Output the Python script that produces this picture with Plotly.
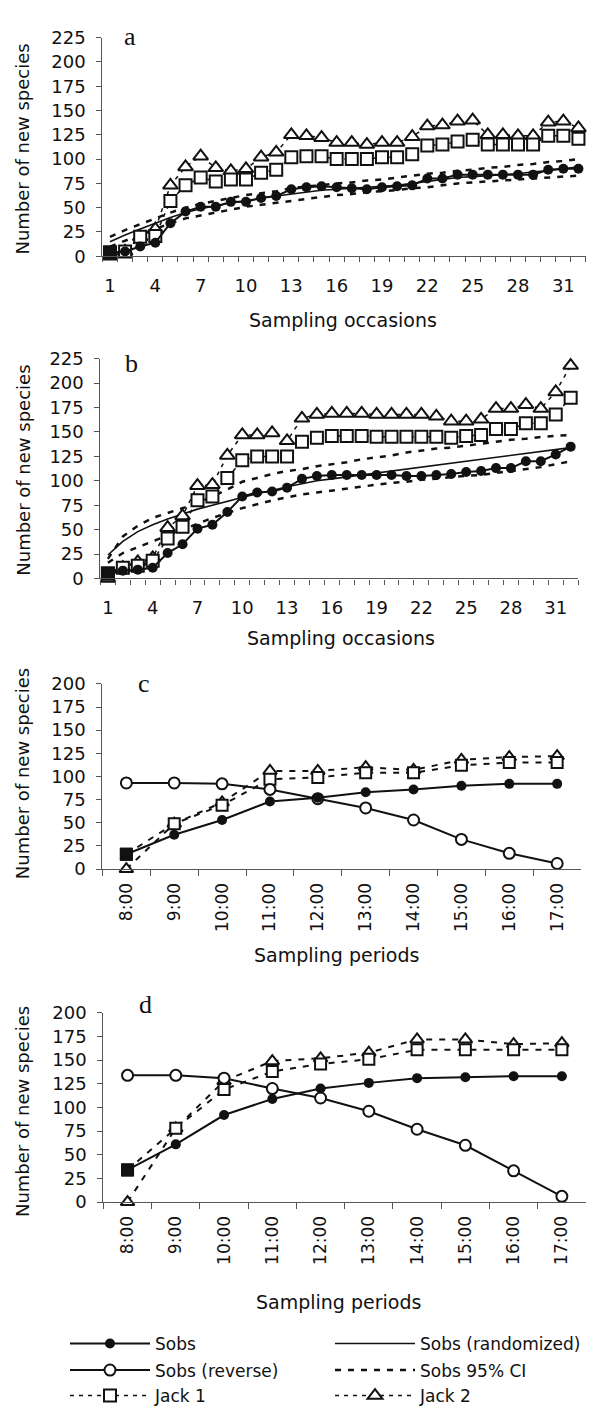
import plotly.graph_objects as go

W, H = 595, 1414
FONT = "DejaVu Sans"
SERIF = "Liberation Serif"
INK = "#111111"
AXIS = "#555555"


def px(x):
    return x / W


def py(y):
    return 1 - y / H


# ---- shared categories ----
occasions = list(range(1, 33))
occasion_labels = [1, 4, 7, 10, 13, 16, 19, 22, 25, 28, 31]
hours = ["8:00", "9:00", "10:00", "11:00", "12:00",
         "13:00", "14:00", "15:00", "16:00", "17:00"]

# ---- panel a: accumulation over sampling occasions ----
a_sobs = [4, 5, 10, 14, 34, 46, 51, 51, 56, 56, 60, 62, 69, 71, 72, 71,
          70, 69, 71, 72, 73, 80, 80, 84, 84, 84, 84, 84, 84, 89, 90, 90]
a_rand = [15, 22, 28, 34, 40, 45, 49, 52, 55, 57, 60, 62, 64, 66, 68, 69,
          70, 71, 72, 73, 75, 77, 79, 81, 82, 83, 84, 85, 87, 88, 90, 92]
a_ci_hi = [20, 27, 33, 39, 45, 50, 54, 57, 60, 63, 65, 67, 70, 72, 73, 75,
           76, 78, 79, 81, 83, 85, 86, 88, 89, 91, 92, 94, 95, 97, 98, 100]
a_ci_lo = [10, 16, 22, 28, 34, 39, 42, 45, 48, 51, 53, 55, 57, 59, 61, 63,
           64, 66, 67, 68, 70, 71, 73, 75, 76, 77, 78, 79, 80, 81, 82, 83]
a_jack1 = [4, 5, 20, 21, 57, 73, 81, 77, 79, 79, 86, 89, 102, 103, 103, 100,
           100, 100, 102, 102, 105, 114, 115, 118, 120, 115, 115, 115, 115,
           124, 124, 121]
a_jack2 = [0, 5, 20, 28, 73, 92, 103, 91, 88, 90, 102, 107, 125, 124, 122,
           117, 117, 115, 117, 117, 123, 134, 135, 139, 140, 125, 125, 124,
           124, 138, 139, 132]

# ---- panel b ----
b_sobs = [5, 8, 9, 11, 26, 35, 51, 55, 68, 84, 88, 89, 93, 102, 105, 106,
          106, 106, 106, 106, 105, 105, 106, 107, 109, 110, 113, 113, 120,
          120, 127, 135]
b_rand = [24, 38, 48, 55, 61, 66, 71, 75, 79, 83, 87, 90, 94, 97, 100, 102,
          104, 106, 108, 110, 112, 114, 116, 118, 120, 122, 124, 126, 128,
          130, 132, 134]
b_ci_hi = [20, 43, 54, 62, 67, 72, 77, 84, 91, 99, 103, 107, 110, 112, 115,
           117, 119, 122, 124, 126, 129, 131, 133, 134, 136, 138, 140, 142,
           143, 145, 146, 147]
b_ci_lo = [16, 26, 32, 38, 44, 50, 56, 62, 67, 72, 76, 80, 83, 86, 88, 90,
           92, 94, 96, 98, 99, 101, 102, 104, 105, 106, 108, 110, 112, 114,
           117, 120]
b_jack1 = [5, 11, 13, 18, 41, 53, 80, 84, 103, 121, 125, 125, 125, 140, 144,
           146, 146, 146, 145, 145, 145, 145, 145, 144, 146, 147, 153, 153,
           159, 159, 168, 185]
b_jack2 = [0, 11, 17, 21, 52, 64, 95, 96, 126, 147, 147, 149, 141, 164, 168,
           169, 169, 169, 168, 168, 168, 168, 166, 161, 161, 163, 174, 174,
           178, 174, 191, 218]

# ---- panel c: hourly sampling periods ----
c_sobs = [16, 37, 53, 73, 77, 83, 86, 90, 92, 92]
c_rev = [93, 93, 92, 86, 76, 66, 53, 32, 17, 6]
c_jack1 = [16, 49, 69, 97, 99, 104, 104, 112, 115, 115]
c_jack2 = [0, 49, 72, 106, 106, 110, 107, 118, 121, 122]

# ---- panel d ----
d_sobs = [34, 61, 92, 109, 120, 126, 131, 132, 133, 133]
d_rev = [134, 134, 131, 120, 110, 96, 77, 60, 33, 6]
d_jack1 = [34, 78, 119, 138, 146, 151, 161, 161, 161, 161]
d_jack2 = [0, 78, 128, 149, 152, 158, 172, 172, 167, 168]

fig = go.Figure()


def add_occasion_panel(n, sobs, rand, ci_hi, ci_lo, jack1, jack2, legend):
    xa, ya = ("x", "y") if n == 1 else (f"x{n}", f"y{n}")
    common = dict(xaxis=xa, yaxis=ya, cliponaxis=False)
    ci_line = dict(color=INK, width=2.5, dash="6px,7px")
    fig.add_trace(go.Scatter(x=occasions, y=ci_hi, mode="lines", line=ci_line,
                             name="Sobs 95% CI", legend="legend2",
                             legendrank=4, showlegend=legend, **common))
    fig.add_trace(go.Scatter(x=occasions, y=ci_lo, mode="lines", line=ci_line,
                             showlegend=False, **common))
    fig.add_trace(go.Scatter(x=occasions, y=rand, mode="lines",
                             line=dict(color=INK, width=1.6),
                             name="Sobs (randomized)", legend="legend",
                             legendrank=2, showlegend=legend, **common))
    fig.add_trace(go.Scatter(x=occasions, y=jack2, mode="lines+markers",
                             line=dict(color=INK, width=1.5, dash="4px,5px"),
                             marker=dict(symbol="triangle-up", size=13,
                                         color="white",
                                         line=dict(color=INK, width=2)),
                             name="Jack 2", legend="legend3", legendrank=6,
                             showlegend=legend, **common))
    fig.add_trace(go.Scatter(x=occasions, y=jack1, mode="lines+markers",
                             line=dict(color=INK, width=1.5, dash="4px,5px"),
                             marker=dict(symbol="square", size=12,
                                         color="white",
                                         line=dict(color=INK, width=2)),
                             name="Jack 1", legend="legend3", legendrank=5,
                             showlegend=legend, **common))
    fig.add_trace(go.Scatter(x=occasions[:1], y=jack1[:1], mode="markers",
                             marker=dict(symbol="square", size=12, color=INK,
                                         line=dict(color=INK, width=2)),
                             showlegend=False, **common))
    fig.add_trace(go.Scatter(x=occasions, y=sobs, mode="lines+markers",
                             line=dict(color=INK, width=2),
                             marker=dict(symbol="circle", size=10, color=INK),
                             name="Sobs", legend="legend", legendrank=1,
                             showlegend=legend, **common))


def add_period_panel(n, sobs, rev, jack1, jack2, legend):
    xa, ya = f"x{n}", f"y{n}"
    common = dict(xaxis=xa, yaxis=ya, cliponaxis=False)
    jline = dict(color=INK, width=2, dash="6px,7px")
    fig.add_trace(go.Scatter(x=hours, y=jack2, mode="lines+markers",
                             line=jline,
                             marker=dict(symbol="triangle-up", size=12,
                                         color="white",
                                         line=dict(color=INK, width=2)),
                             showlegend=False, **common))
    fig.add_trace(go.Scatter(x=hours, y=jack1, mode="lines+markers",
                             line=jline,
                             marker=dict(symbol="square", size=11,
                                         color="white",
                                         line=dict(color=INK, width=2)),
                             showlegend=False, **common))
    fig.add_trace(go.Scatter(x=hours, y=rev, mode="lines+markers",
                             line=dict(color=INK, width=2),
                             marker=dict(symbol="circle", size=11,
                                         color="white",
                                         line=dict(color=INK, width=2)),
                             name="Sobs (reverse)", legend="legend2",
                             legendrank=3, showlegend=legend, **common))
    fig.add_trace(go.Scatter(x=hours, y=sobs, mode="lines+markers",
                             line=dict(color=INK, width=2),
                             marker=dict(symbol="circle", size=10, color=INK),
                             showlegend=False, **common))
    fig.add_trace(go.Scatter(x=hours[:1], y=jack1[:1], mode="markers",
                             marker=dict(symbol="square", size=12, color=INK,
                                         line=dict(color=INK, width=1)),
                             showlegend=False, **common))


add_occasion_panel(1, a_sobs, a_rand, a_ci_hi, a_ci_lo, a_jack1, a_jack2, True)
add_occasion_panel(2, b_sobs, b_rand, b_ci_hi, b_ci_lo, b_jack1, b_jack2, False)
add_period_panel(3, c_sobs, c_rev, c_jack1, c_jack2, True)
add_period_panel(4, d_sobs, d_rev, d_jack1, d_jack2, False)

tickfont = dict(family=FONT, size=18, color=INK)
axis_base = dict(showline=True, linecolor=AXIS, linewidth=1.2, showgrid=False,
                 zeroline=False, tickfont=tickfont, tickcolor=AXIS)


def occ_xaxis(x0, x1, yname):
    return dict(axis_base, domain=[px(x0), px(x1)], range=[0.5, 32.5],
                anchor=yname, tickmode="array", tickvals=occasion_labels,
                ticks="", ticklabelstandoff=13,
                minor=dict(tickmode="array",
                           tickvals=[v - 0.5 for v in occasions] + [32.5],
                           ticks="outside", ticklen=5, tickcolor=AXIS,
                           tickwidth=1))


def per_xaxis(x0, x1, yname):
    return dict(axis_base, domain=[px(x0), px(x1)], type="category",
                range=[-0.5, 9.5], anchor=yname, tickson="boundaries",
                ticks="outside", ticklen=6, tickangle=-90,
                ticklabelstandoff=6,
                tickfont=dict(family=FONT, size=17, color=INK))


def yaxis(top_px, zero_px, top_val, xname):
    return dict(axis_base, domain=[py(zero_px), py(top_px)],
                range=[0, top_val], anchor=xname, tickmode="linear",
                tick0=0, dtick=25, ticks="outside", ticklen=5,
                ticklabelstandoff=7)


fig.update_layout(
    width=W, height=H, margin=dict(l=0, r=0, t=0, b=0),
    paper_bgcolor="white", plot_bgcolor="white",
    font=dict(family=FONT, color=INK),
    xaxis=occ_xaxis(104, 595, "y"),
    yaxis=yaxis(27, 249, 225, "x"),
    xaxis2=occ_xaxis(102, 587, "y2"),
    yaxis2=yaxis(353, 576, 225, "x2"),
    xaxis3=per_xaxis(104, 590, "y3"),
    yaxis3=yaxis(683, 871, 200, "x3"),
    xaxis4=per_xaxis(105, 595, "y4"),
    yaxis4=yaxis(1017, 1209, 200, "x4"),
)

legend_base = dict(orientation="h", xanchor="left", yanchor="middle",
                   itemwidth=80, entrywidth=170, bgcolor="rgba(0,0,0,0)",
                   font=dict(family=FONT, size=17, color=INK),
                   itemclick=False, itemdoubleclick=False)
fig.update_layout(
    legend=dict(legend_base, x=px(66), y=py(1353)),
    legend2=dict(legend_base, x=px(66), y=py(1380)),
    legend3=dict(legend_base, x=px(66), y=py(1406)),
)

# axis titles and panel letters
centered = dict(xref="paper", yref="paper", showarrow=False,
                xanchor="center", yanchor="middle")
titles = [
    ("Sampling occasions", 348, 314),
    ("Sampling occasions", 346, 636),
    ("Sampling periods", 342, 958),
    ("Sampling periods", 344, 1310),
]
for text, x, y in titles:
    fig.add_annotation(text=text, x=px(x), y=py(y), **centered,
                       font=dict(family=FONT, size=19, color=INK))
for y in (140, 466, 774, 1117):
    fig.add_annotation(text="Number of new species", x=px(23), y=py(y),
                       textangle=-90, **centered,
                       font=dict(family=FONT, size=18, color=INK))
for letter, x, y in (("a", 132, 26), ("b", 134, 358), ("c", 146, 683),
                     ("d", 148, 1008)):
    fig.add_annotation(text=letter, x=px(x), y=py(y), **centered,
                       font=dict(family=SERIF, size=26, color=INK))

fig.write_html("out.html")
